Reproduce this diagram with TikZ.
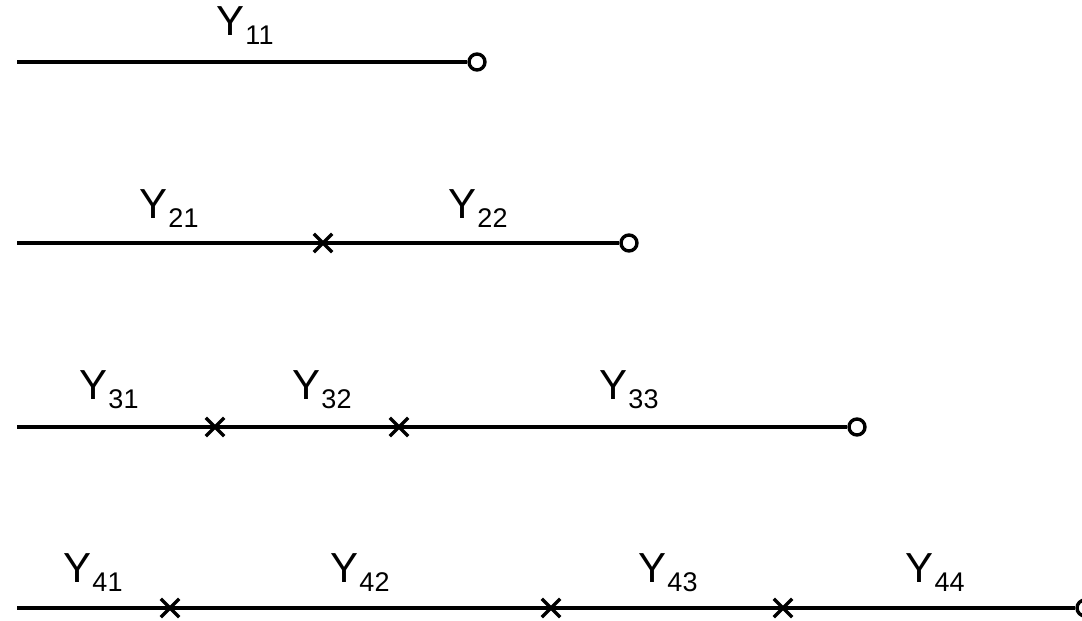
\documentclass[tikz,border=0pt]{standalone}
\usepackage{fontspec}
\setmainfont{Liberation Sans}
\usetikzlibrary{shapes.misc}
\newcommand{\ylab}[1]{\fontsize{42}{42}\selectfont Y\hspace{1pt}\raisebox{-9pt}{\fontsize{27}{27}\selectfont #1}}
\tikzset{
  seg/.style={line width=3.6pt},
  endmark/.style={circle, draw, line width=3.4pt, minimum size=16pt, inner sep=0pt, fill=none},
  crossmark/.style={cross out, draw, line width=3.4pt, minimum size=15pt, inner sep=0pt},
  lab/.style={anchor=base, inner sep=0pt}
}
\begin{document}
\begin{tikzpicture}[x=1pt,y=-1pt]
\useasboundingbox (0,0) rectangle (1082,621);
\clip (0,0) rectangle (1082,621);
% row 1
\coordinate (s1) at (17,62);
\node[endmark] (e1) at (477,62) {};
\draw[seg] (s1) -- (e1);
\node[lab] (y11) at (245,35) {\ylab{11}};
% row 2
\coordinate (s2) at (17,243);
\node[endmark] (e2) at (629,243) {};
\draw[seg] (s2) -- (e2);
\node[crossmark] (c21) at (323,243) {};
\node[lab] (y21) at (169,218) {\ylab{21}};
\node[lab] (y22) at (478,218) {\ylab{22}};
% row 3
\coordinate (s3) at (17,427);
\node[endmark] (e3) at (857,427) {};
\draw[seg] (s3) -- (e3);
\node[crossmark] (c31) at (215,427) {};
\node[crossmark] (c32) at (399,427) {};
\node[lab] (y31) at (109,399) {\ylab{31}};
\node[lab] (y32) at (322,399) {\ylab{32}};
\node[lab] (y33) at (629,399) {\ylab{33}};
% row 4
\coordinate (s4) at (17,608);
\node[endmark] (e4) at (1085,608) {};
\draw[seg] (s4) -- (e4);
\node[crossmark] (c41) at (170,608) {};
\node[crossmark] (c42) at (551,608) {};
\node[crossmark] (c43) at (783,608) {};
\node[lab] (y41) at (93,582) {\ylab{41}};
\node[lab] (y42) at (360,582) {\ylab{42}};
\node[lab] (y43) at (668,582) {\ylab{43}};
\node[lab] (y44) at (935,582) {\ylab{44}};
\end{tikzpicture}
\end{document}
